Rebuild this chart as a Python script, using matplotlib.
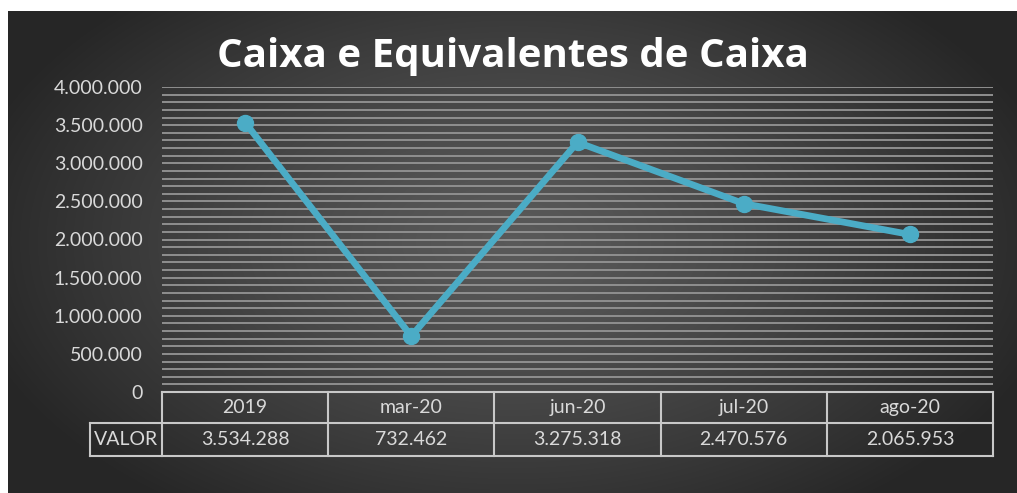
import numpy as np
import matplotlib
matplotlib.use("Agg")
import matplotlib.pyplot as plt
from matplotlib.transforms import blended_transform_factory

# data
categorias = ["2019", "mar-20", "jun-20", "jul-20", "ago-20"]
valores = [3534288, 732462, 3275318, 2470576, 2065953]
titulo = "Caixa e Equivalentes de Caixa"
rotulo_linha = "VALOR"

W, H = 1017, 493


def fmt(v):
    return f"{v:,.0f}".replace(",", ".")


plt.rcParams['font.family'] = ['Lato', 'DejaVu Sans']
txt_cor = "#d9d9d9"

fig = plt.figure(figsize=(W / 100, H / 100), dpi=100)
fig.patch.set_facecolor("white")

# fundo escuro com gradiente radial
bg = fig.add_axes([8 / W, 0, (W - 8) / W, (H - 11) / H])
yy, xx = np.mgrid[0:482, 0:1009]
r = np.sqrt(((xx - 505) / 560.0) ** 2 + ((yy - 230) / 330.0) ** 2)
r = np.clip(r, 0, 1)
shade = 0.35 - 0.20 * r ** 1.3
bg.imshow(np.dstack([shade, shade, shade]), aspect="auto", extent=[0, 1, 0, 1])
bg.set_axis_off()

# area do grafico
x0, x1 = 162, 993
y_top, y_zero = 87, 392
ax = fig.add_axes([x0 / W, (H - y_zero) / H, (x1 - x0) / W, (y_zero - y_top) / H])
ax.set_facecolor("none")
for s in ax.spines.values():
    s.set_visible(False)

x = np.arange(len(categorias))
ax.set_xlim(-0.5, len(categorias) - 0.5)
ax.set_ylim(0, 4000000)
ax.set_yticks(np.arange(0, 4000001, 500000))
ax.set_yticklabels([fmt(v) for v in np.arange(0, 4000001, 500000)],
                   color=txt_cor, fontsize=14)
ax.tick_params(axis="y", length=0, pad=14)
ax.set_xticks([])
for g in np.arange(100000, 4000001, 100000):
    ax.axhline(g, color="#8f8f8f", lw=1.4, zorder=1)

ax.plot(x, valores, color="#4bacc6", lw=4.8, marker="o", markersize=11.5,
        solid_capstyle="round", zorder=3)

# tabela de dados
tr = blended_transform_factory(ax.transData, ax.transAxes)
h = y_zero - y_top
r1 = -31 / h
r2 = -64 / h
left = -0.5 - 72 / ((x1 - x0) / len(categorias))
lc = "#c8c8c8"
lw = 1.5
kw = dict(color=lc, lw=lw, transform=tr, clip_on=False)
ax.plot([-0.5, 4.5], [0, 0], **kw)
ax.plot([left, 4.5], [r1, r1], **kw)
ax.plot([left, 4.5], [r2, r2], **kw)
ax.plot([left, left], [r1, r2], **kw)
for xb in np.arange(-0.5, len(categorias), 1.0):
    ax.plot([xb, xb], [0, r2], **kw)
for i, c in enumerate(categorias):
    ax.text(i, r1 / 2, c, transform=tr, ha="center", va="center",
            color=txt_cor, fontsize=14)
    ax.text(i, (r1 + r2) / 2, fmt(valores[i]), transform=tr, ha="center",
            va="center", color=txt_cor, fontsize=14)
ax.text((left - 0.5) / 2, (r1 + r2) / 2, rotulo_linha, transform=tr,
        ha="center", va="center", color=txt_cor, fontsize=14)

fig.text(513 / W, 1 - 56 / H, titulo, ha="center", va="center", color="white",
         fontsize=29, fontweight="bold", family=["Open Sans", "DejaVu Sans"])

fig.savefig("out.png", dpi=100)
